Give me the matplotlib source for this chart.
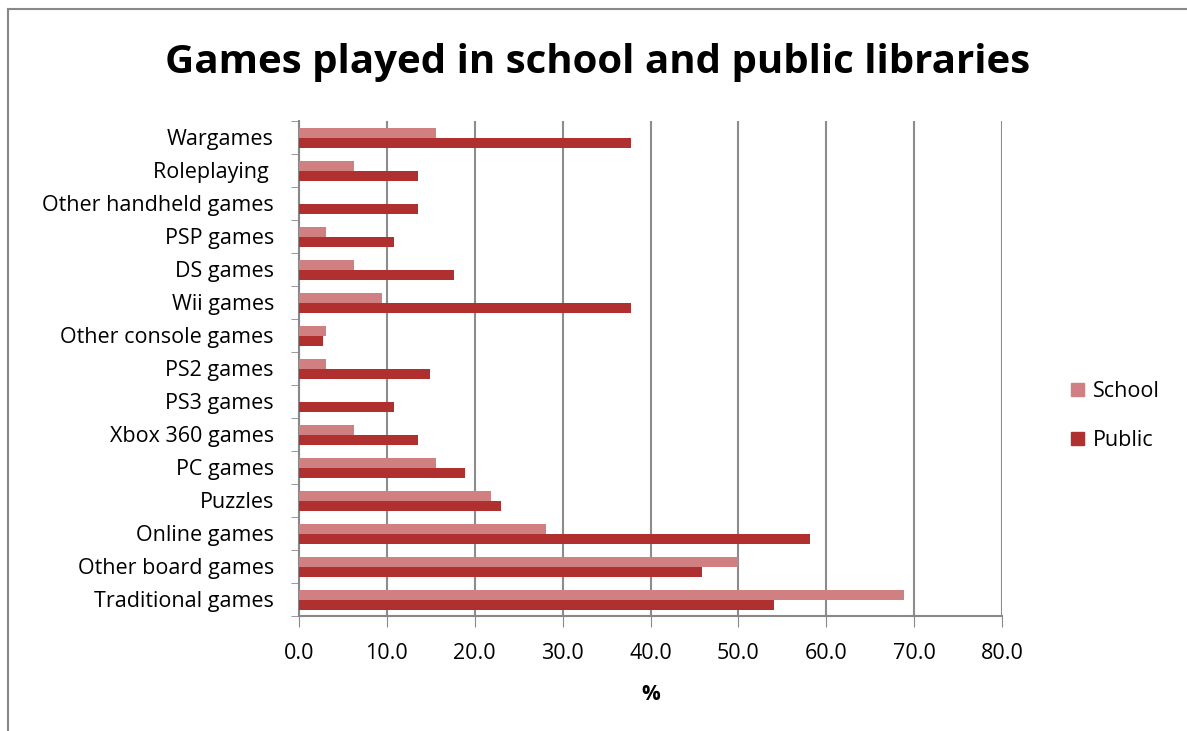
import numpy as np
import matplotlib.pyplot as plt
from matplotlib.lines import Line2D
from matplotlib.patches import Patch

categories = ["Wargames", "Roleplaying ", "Other handheld games", "PSP games",
              "DS games", "Wii games", "Other console games", "PS2 games",
              "PS3 games", "Xbox 360 games", "PC games", "Puzzles",
              "Online games", "Other board games", "Traditional games"]
school = [15.6, 6.3, 0.0, 3.1, 6.3, 9.4, 3.1, 3.1, 0.0, 6.3, 15.6, 21.9, 28.1, 50.0, 68.8]
public = [37.8, 13.5, 13.5, 10.8, 17.6, 37.8, 2.7, 14.9, 10.8, 13.5, 18.9, 23.0, 58.1, 45.9, 54.1]
xticks = [0, 10, 20, 30, 40, 50, 60, 70, 80]

SCHOOL_C = "#D08080"
PUBLIC_C = "#B03030"

plt.rcParams["font.family"] = ["Open Sans", "DejaVu Sans"]

fig = plt.figure(figsize=(11.87, 7.31), dpi=100)
W, H = 1187, 731
ax = fig.add_axes([299 / W, 1 - 615.5 / H, (1002 - 299) / W, (615.5 - 120.5) / H])

n = len(categories)
y = np.arange(n)[::-1]
h = 0.3
ax.barh(y + h / 2 - 0.025, school, height=h, color=SCHOOL_C, zorder=3)
ax.barh(y - h / 2 - 0.025, public, height=h, color=PUBLIC_C, zorder=3)

ax.set_xlim(0, 80)
ax.set_ylim(-0.5, n - 0.5)
ax.set_xticks(xticks)
ax.set_xticklabels([f"{v:.1f}" for v in xticks], fontsize=15.5)
ax.set_yticks(y)
ax.set_yticklabels(categories, fontsize=15.5)
ax.set_yticks(np.arange(-0.5, n, 1), minor=True)
ax.tick_params(axis="y", which="major", length=0, pad=18)
ax.tick_params(axis="y", which="minor", length=6, color="#888888")
ax.tick_params(axis="x", length=8, color="#888888", pad=12)
ax.grid(axis="x", color="#8c8c8c", linewidth=1.5, zorder=0)
for s in ["top", "right"]:
    ax.spines[s].set_visible(False)
for s in ["left", "bottom"]:
    ax.spines[s].set_color("#888888")
    ax.spines[s].set_linewidth(1.5)
ax.set_xlabel("%", fontsize=15, fontweight="bold", labelpad=14)

fig.text(598 / W, 1 - 62 / H, "Games played in school and public libraries",
         ha="center", va="center", fontsize=29, fontweight="bold")

handles = [Patch(color=SCHOOL_C, label="School"), Patch(color=PUBLIC_C, label="Public")]
fig.legend(handles=handles, loc="center left", bbox_to_anchor=(1052 / W, 1 - 416 / H),
           frameon=False, fontsize=15.5, handlelength=0.6, handleheight=0.6,
           handletextpad=0.4, labelspacing=1.3)

# outer chart frame
fig.add_artist(Line2D([8 / W, 8 / W], [0, 1 - 9 / H], color="#888888", linewidth=1.5))
fig.add_artist(Line2D([8 / W, 1], [1 - 9 / H, 1 - 9 / H], color="#888888", linewidth=1.5))

fig.savefig("out.png", dpi=100)
